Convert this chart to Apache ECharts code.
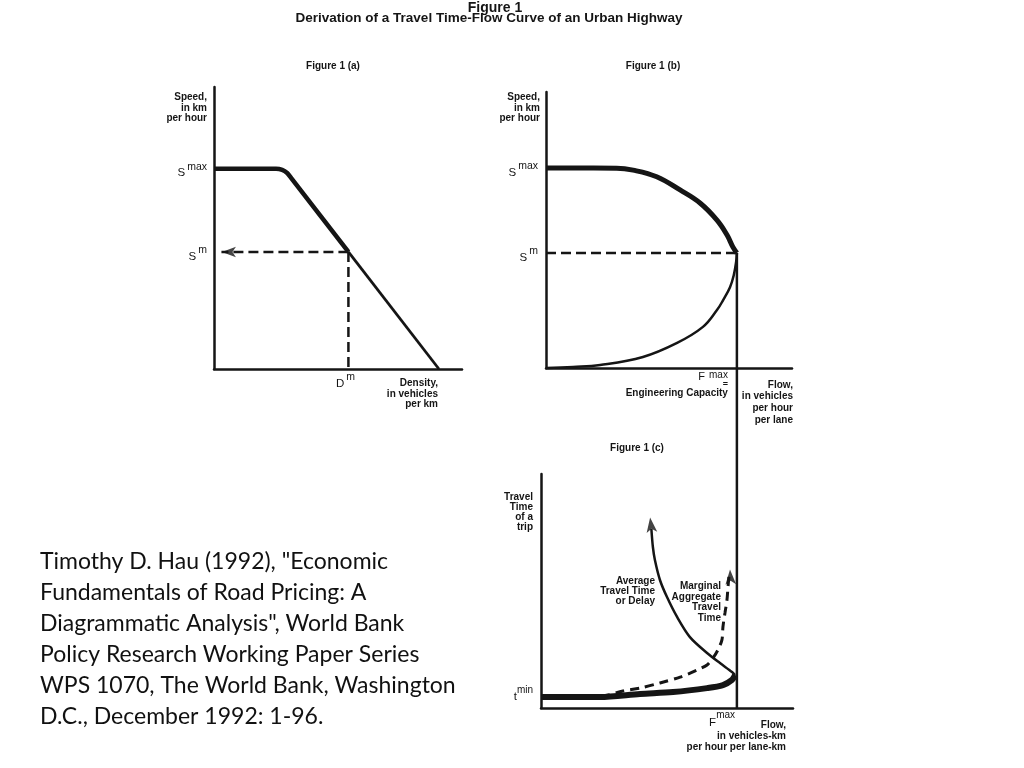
<!DOCTYPE html>
<html><head><meta charset="utf-8">
<script src="https://cdn.jsdelivr.net/npm/echarts@6/dist/echarts.min.js"></script>
<style>html,body{margin:0;padding:0;background:#fff}#c{width:1024px;height:768px}</style>
</head><body><div id="c"></div>
<script>
// ---------- Figure 1(a): speed (y) vs density (x), arbitrary units 0..100 ----------
const speedDensityUpper = [[0,71],[25,71],[27.5,70.6],[29.5,69.5],[31,67.9],[54.2,41.5]];
const speedDensityLower = [[54.2,41.5],[90.7,0]];
const guideA_toSpeed = [[54.2,41.5],[3,41.5]];
const guideA_toDensity = [[54.2,41.5],[54.2,0]];
const arrowsA = [[3.2,41.5,90]];               // x, y, rotation
const speedTicksA = [71, 41.5];
const speedTickLabelsA = [['S','max'],['S','m']];
const densityTicks = [54.2];
const densityTickLabels = [['D','m']];

// ---------- Figure 1(b): speed (y) vs flow (x) ----------
const speedFlowUpper = [[0,72.5],[28.7,72.4],[35.4,71.7],[45.0,69.3],[54.5,64.5],[62.6,59.8],[69.5,53.6],[73.6,48.2],[76.0,43.8],[77.6,41.7]];
const speedFlowLower = [[77.6,41.7],[77.3,38.5],[76.3,33.5],[74.8,29.3],[72.0,24.6],[69.5,21.0],[63.8,14.9],[53.3,9.1],[39.4,4.0],[22.0,1.1],[11.0,0.4],[0,0]];
const guideB_speed = [[0,41.7],[77.6,41.7]];
const speedTicksB = [72.5, 41.7];
const speedTickLabelsB = [['S','max'],['S','m']];
const flowMaxB = 77.6;
const capacityLink = [[77.6,0],[77.6,1]];     // vertical F^max line joining (b) and (c)

// ---------- Figure 1(c): travel time (y) vs flow (x) ----------
const avgTimeFree = [[0,4.7],[23.4,4.7],[39.3,6.0],[52.4,6.8],[65.9,8.5],[72.2,9.8],[75.8,12.0],[77.0,14.1]];
const avgTimeBackward = [[77.0,14.1],[75.8,15.4],[71.0,19.2],[65.9,23.5],[59.1,30.3],[54.0,38.9],[50.0,47.4],[47.2,54.7],[45.2,63.2],[44.4,68.8],[43.8,76.5]];
const marginalTime = [[0,4.7],[24.6,5.1],[32.5,7.3],[39.3,8.5],[47.2,10.7],[55.2,13.2],[61.9,16.2],[65.9,18.4],[68.3,21.4],[70.2,24.8],[71.8,29.1],[72.2,34.6],[73.0,40.6],[73.8,46.2],[74.2,51.7],[74.6,56.5]];
const arrowsC = [[43.3,81.4,7],[75.0,59.2,3]];
const timeTicks = [4.7];
const timeTickLabels = [['t','min']];
const flowTicksC = [77.0];
const flowTickLabelsC = [['F','max']];
const curveNames = ['Average\nTravel Time\nor Delay', 'Marginal\nAggregate\nTravel\nTime'];

const citationLines = [
  'Timothy D. Hau (1992), "Economic',
  'Fundamentals of Road Pricing: A',
  'Diagrammatic Analysis", World Bank',
  'Policy Research Working Paper Series',
  'WPS 1070, The World Bank, Washington',
  'D.C., December 1992: 1-96.'
];

// ---------------------------------------------------------------
const INK = '#151515';
const FONT = '"Liberation Sans", Arial, sans-serif';
const rich = {
  b:{fontFamily:FONT,fontSize:11.5,color:INK,verticalAlign:'bottom',lineHeight:18},
  s:{fontFamily:FONT,fontSize:10.5,color:INK,verticalAlign:'top',lineHeight:10,padding:[0,0,0,2]},
  n:{fontFamily:FONT,fontSize:11.5,color:INK,verticalAlign:'bottom',lineHeight:18},
  ns:{fontFamily:FONT,fontSize:10,color:INK,verticalAlign:'top',lineHeight:10},
  f:{fontFamily:FONT,fontSize:11,color:INK,verticalAlign:'bottom',lineHeight:12},
  fs:{fontFamily:FONT,fontSize:10,color:INK,verticalAlign:'top',lineHeight:10,padding:[0,0,0,4]},
  eq:{fontFamily:FONT,fontSize:9,fontWeight:'bold',color:INK,lineHeight:5},
  t:{fontFamily:FONT,fontSize:10,fontWeight:'bold',color:INK,lineHeight:13}
};
function fmt(values, labels, gap){
  return v => {
    const i = values.findIndex(x => Math.abs(x - v) < 1e-6);
    if (i < 0) return '';
    return gap ? '{b|' + labels[i][0] + '}{s|' + labels[i][1] + '}'
               : '{n|' + labels[i][0] + '}{ns|' + labels[i][1] + '}';
  };
}
const nameStyle = (extra) => Object.assign({fontFamily:FONT,fontSize:10,fontWeight:'bold',color:INK,lineHeight:10.5}, extra);
const axisLine = {show:true,onZero:false,lineStyle:{color:INK,width:2.5}};

function axis(gridIndex, extra){
  return Object.assign({
    gridIndex, type:'value', min:0, max:100,
    axisLine, axisTick:{show:false}, splitLine:{show:false},
    axisLabel:{show:false}, nameMoveOverlap:false
  }, extra);
}

const xAxis = [
  axis(0,{
    axisLabel:{show:true,customValues:densityTicks,formatter:fmt(densityTicks,densityTickLabels,true),rich,margin:2.5,align:'center',padding:[0,6,0,0],hideOverlap:false},
    name:'Density,\nin vehicles\nper km', nameLocation:'end', nameGap:-24,
    nameTextStyle:nameStyle({align:'right',verticalAlign:'top',padding:[9,0,0,0]})
  }),
  axis(1,{
    axisLabel:{show:true,customValues:[flowMaxB],
      formatter:()=> '{f|F}{fs|max}\n{eq|=}\n{t|Engineering Capacity}',
      rich,margin:2,align:'right',padding:[0,9,0,0],hideOverlap:false},
    name:'Flow,\nin vehicles\nper hour\nper lane', nameLocation:'end', nameGap:1,
    nameTextStyle:nameStyle({align:'right',verticalAlign:'top',padding:[11,0,0,0],lineHeight:11.8})
  }),
  axis(2,{
    axisLabel:{show:true,customValues:flowTicksC,formatter:fmt(flowTicksC,flowTickLabelsC,false),rich,margin:2.5,align:'right',hideOverlap:false},
    name:'Flow,\nin vehicles-km\nper hour per lane-km', nameLocation:'end', nameGap:-7,
    nameTextStyle:nameStyle({align:'right',verticalAlign:'top',padding:[12,0,0,0],lineHeight:11})
  }),
  {gridIndex:3,type:'value',min:0,max:100,show:false}
];
const yAxis = [
  axis(0,{
    axisLabel:{show:true,customValues:speedTicksA,formatter:fmt(speedTicksA,speedTickLabelsA,true),rich,margin:7,padding:[3,0,0,0],hideOverlap:false},
    name:'Speed,\nin km\nper hour', nameLocation:'end', nameGap:-5,
    nameTextStyle:nameStyle({align:'right',verticalAlign:'top',padding:[0,7,0,0]})
  }),
  axis(1,{
    axisLabel:{show:true,customValues:speedTicksB,formatter:fmt(speedTicksB,speedTickLabelsB,true),rich,margin:8,padding:[3,0,0,0],hideOverlap:false},
    name:'Speed,\nin km\nper hour', nameLocation:'end', nameGap:0,
    nameTextStyle:nameStyle({align:'right',verticalAlign:'top',padding:[0,6,0,0]})
  }),
  axis(2,{
    axisLabel:{show:true,customValues:timeTicks,formatter:fmt(timeTicks,timeTickLabels,false),rich,margin:8,padding:[0,0,6,0],hideOverlap:false},
    name:'Travel\nTime\nof a\ntrip', nameLocation:'end', nameGap:-18,
    nameTextStyle:nameStyle({align:'right',verticalAlign:'top',padding:[0,8,0,0],lineHeight:10})
  }),
  {gridIndex:3,type:'value',min:0,max:1,show:false}
];

function line(idx, data, width, extra){
  return Object.assign({
    type:'line', xAxisIndex:idx, yAxisIndex:idx, data, symbol:'none', silent:true,
    clip:false, animation:false, smooth:false,
    lineStyle:{color:INK,width}
  }, extra||{});
}
function dashed(idx, data, width, dash, extra){
  return line(idx, data, width, Object.assign({lineStyle:{color:INK,width,type:dash}}, extra||{}));
}
function arrows(idx, list, size){
  return {
    type:'scatter', xAxisIndex:idx, yAxisIndex:idx, silent:true, animation:false, clip:false,
    symbol:'arrow', symbolSize:size,
    itemStyle:{color:INK},
    data:list.map(a=>({value:[a[0],a[1]],symbolRotate:a[2]}))
  };
}
const small = (text, x, y, align, lh) => ({type:'text',x,y,style:{text,font:'bold 10px '+FONT,fill:INK,align,verticalAlign:'top',lineHeight:lh}});

const option = {
  backgroundColor:'#fff',
  animation:false,
  grid:[
    {left:214,top:87,width:248,height:282},
    {left:546,top:92,width:246,height:276},
    {left:541,top:474,width:252,height:234},
    {left:546,top:253,width:246,height:455}
  ],
  xAxis, yAxis,
  series:[
    line(0, speedDensityUpper, 4.5, {smooth:0.2}),
    line(0, speedDensityLower, 2.8),
    dashed(0, guideA_toSpeed, 2.5, [10,5]),
    dashed(0, guideA_toDensity, 2.5, [10,5]),
    arrows(0, arrowsA, [8,14]),
    line(1, speedFlowUpper, 5, {smooth:0.4}),
    line(1, speedFlowLower, 2.5, {smooth:0.4}),
    dashed(1, guideB_speed, 2.5, [10,5]),
    line(3, capacityLink, 2.5),
    line(2, avgTimeFree, 6, {smooth:0.3}),
    line(2, avgTimeBackward, 2.5, {smooth:0.3}),
    dashed(2, marginalTime, 3, [9,6], {smooth:0.3}),
    arrows(2, arrowsC, [8,15])
  ],
  graphic:[
    {type:'text',x:495,y:8,style:{text:'Figure 1',font:'bold 14px '+FONT,fill:INK,align:'center',verticalAlign:'middle'}},
    {type:'text',x:489,y:18.5,style:{text:'Derivation of a Travel Time-Flow Curve of an Urban Highway',font:'bold 13.5px '+FONT,fill:INK,align:'center',verticalAlign:'middle'}},
    {type:'text',x:333,y:66,style:{text:'Figure 1 (a)',font:'bold 10px '+FONT,fill:INK,align:'center',verticalAlign:'middle'}},
    {type:'text',x:653,y:66,style:{text:'Figure 1 (b)',font:'bold 10px '+FONT,fill:INK,align:'center',verticalAlign:'middle'}},
    {type:'text',x:637,y:448,style:{text:'Figure 1 (c)',font:'bold 10px '+FONT,fill:INK,align:'center',verticalAlign:'middle'}},
    small(curveNames[0], 655, 576, 'right', 10),
    small(curveNames[1], 721, 581, 'right', 10.5),
    {type:'text',x:40,y:546,style:{text:citationLines.join('\n'),font:'23px Lato',lineHeight:31,fill:'#111'}}
  ]
};
const chart = echarts.init(document.getElementById('c'));
chart.setOption(option);
</script>
</body></html>
